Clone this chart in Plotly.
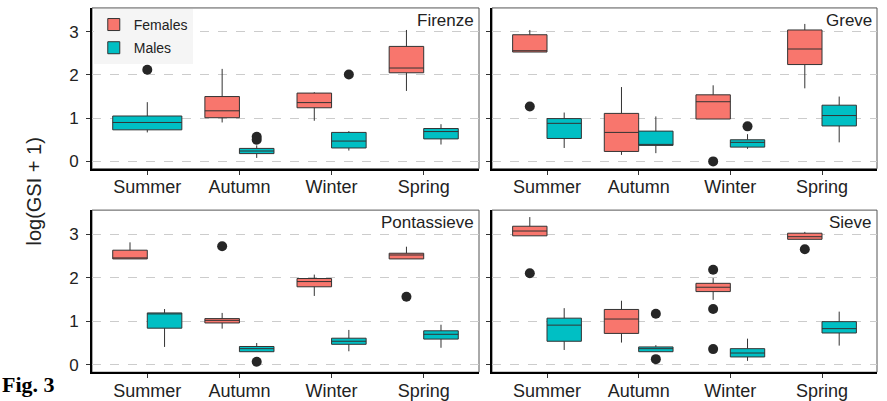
import plotly.graph_objects as go

SEASONS = ["Summer", "Autumn", "Winter", "Spring"]
SITES = ["Firenze", "Greve", "Pontassieve", "Sieve"]

# Box statistics per season: (lower whisker, Q1, median, Q3, upper whisker); None = no fish sampled
firenze_females = [None,
                   (0.90, 1.01, 1.17, 1.50, 2.14),
                   (0.94, 1.24, 1.36, 1.58, 1.60),
                   (1.63, 2.05, 2.16, 2.66, 3.04)]
firenze_males = [(0.67, 0.73, 0.90, 1.05, 1.37),
                 (0.08, 0.18, 0.24, 0.30, 0.37),
                 (0.25, 0.31, 0.47, 0.67, 0.70),
                 (0.39, 0.52, 0.69, 0.76, 0.86)]
greve_females = [(2.53, 2.53, 2.56, 2.93, 3.04),
                 (0.15, 0.23, 0.67, 1.11, 1.72),
                 (0.98, 0.98, 1.38, 1.54, 1.76),
                 (1.69, 2.24, 2.60, 3.04, 3.18)]
greve_males = [(0.31, 0.53, 0.88, 0.99, 1.13),
               (0.19, 0.37, 0.39, 0.70, 1.04),
               (0.29, 0.33, 0.44, 0.50, 0.63),
               (0.44, 0.82, 1.06, 1.30, 1.50)]
pontassieve_females = [(2.43, 2.43, 2.45, 2.63, 2.81),
                       (0.83, 0.96, 1.02, 1.06, 1.19),
                       (1.58, 1.79, 1.91, 1.98, 2.07),
                       (2.43, 2.43, 2.52, 2.56, 2.71)]
pontassieve_males = [(0.41, 0.84, 1.17, 1.19, 1.28),
                     (0.30, 0.30, 0.37, 0.42, 0.50),
                     (0.31, 0.47, 0.54, 0.61, 0.80),
                     (0.39, 0.59, 0.70, 0.78, 0.92)]
sieve_females = [(2.96, 2.96, 3.07, 3.18, 3.39),
                 (0.51, 0.72, 1.05, 1.27, 1.47),
                 (1.49, 1.68, 1.78, 1.87, 1.99),
                 (2.88, 2.88, 2.94, 3.02, 3.05)]
sieve_males = [(0.34, 0.54, 0.91, 1.07, 1.30),
               (0.30, 0.30, 0.37, 0.41, 0.45),
               (0.09, 0.18, 0.27, 0.37, 0.60),
               (0.44, 0.73, 0.83, 0.99, 1.22)]

# Outlying values per season
firenze_females_out = [[], [], [], []]
firenze_males_out = [[2.12], [0.57, 0.50], [2.01], []]
greve_females_out = [[1.27], [], [0.00], []]
greve_males_out = [[], [], [0.81], []]
pontassieve_females_out = [[], [2.72], [], [1.56]]
pontassieve_males_out = [[], [0.07], [], []]
sieve_females_out = [[2.10], [], [2.18, 1.28, 0.36], [2.65]]
sieve_males_out = [[], [1.17, 0.13], [], []]

STATS = {
    "Firenze": (firenze_females, firenze_males, firenze_females_out, firenze_males_out),
    "Greve": (greve_females, greve_males, greve_females_out, greve_males_out),
    "Pontassieve": (pontassieve_females, pontassieve_males, pontassieve_females_out, pontassieve_males_out),
    "Sieve": (sieve_females, sieve_males, sieve_females_out, sieve_males_out),
}

SEX_NAMES = ["Females", "Males"]
FILL = ["#F8766D", "#00BFC4"]
EDGE = "#333333"
DODGE = 0.75  # total width shared by the two boxes at one season

W, H = 887, 401
COL_PX = [(92, 479), (492, 877)]
ROW_PX = [(8, 170), (211.7, 375)]
YRANGE = [-0.17, 3.55]

fig = go.Figure()
font = "Liberation Sans, Arial, sans-serif"

for k, site in enumerate(SITES):
    r, c = divmod(k, 2)
    n = k + 1
    xa = "x" if n == 1 else f"x{n}"
    ya = "y" if n == 1 else f"y{n}"
    stats = STATS[site]
    for s in range(2):
        own, other = stats[s], stats[1 - s]
        outs = stats[2 + s]
        groups = {"dodged": ([], []), "solo": ([], [])}
        out_x, out_y = [], []
        for i, st in enumerate(own):
            if st is None:
                continue
            pos = i + 1
            if other[i] is None:
                groups["solo"][0].append(pos)
                groups["solo"][1].append(st)
                cx = pos
            else:
                cx = pos + (-1 if s == 0 else 1) * DODGE / 4
                groups["dodged"][0].append(cx)
                groups["dodged"][1].append(st)
            for v in outs[i]:
                out_x.append(cx)
                out_y.append(v)
        for gname, (xs, sts) in groups.items():
            if not xs:
                continue
            fig.add_trace(go.Box(
                x=xs,
                lowerfence=[t[0] for t in sts],
                q1=[t[1] for t in sts],
                median=[t[2] for t in sts],
                q3=[t[3] for t in sts],
                upperfence=[t[4] for t in sts],
                width=DODGE / 2 if gname == "dodged" else DODGE,
                whiskerwidth=0,
                fillcolor=FILL[s],
                line=dict(color=EDGE, width=1),
                name=SEX_NAMES[s],
                legendgroup=SEX_NAMES[s],
                showlegend=(k == 0 and gname == "dodged"),
                boxpoints=False,
                hoverinfo="skip",
                xaxis=xa, yaxis=ya,
            ))
        if out_x:
            fig.add_trace(go.Scatter(
                x=out_x, y=out_y, mode="markers",
                marker=dict(color="#262626", size=10),
                showlegend=False, hoverinfo="skip",
                xaxis=xa, yaxis=ya,
            ))

    x0, x1 = COL_PX[c]
    y0, y1 = ROW_PX[r]
    xdom = [x0 / W, x1 / W]
    ydom = [1 - y1 / H, 1 - y0 / H]
    xkey = "xaxis" if n == 1 else f"xaxis{n}"
    ykey = "yaxis" if n == 1 else f"yaxis{n}"
    fig.update_layout(**{
        xkey: dict(domain=xdom, anchor=ya, range=[0.4, 4.6],
                   tickvals=[1, 2, 3, 4], ticktext=SEASONS,
                   showgrid=False, zeroline=False,
                   showline=True, linecolor="black", linewidth=2,
                   ticks="outside", ticklen=4, tickcolor="#333333", tickwidth=1,
                   ticklabelstandoff=-3,
                   tickfont=dict(family=font, size=18, color="#222222")),
        ykey: dict(domain=ydom, anchor=xa, range=YRANGE,
                   tickvals=[0, 1, 2, 3],
                   showgrid=True, gridcolor="#cccccc", griddash="dash", gridwidth=1,
                   zeroline=False,
                   showline=True, linecolor="black", linewidth=2,
                   ticks="outside", ticklen=4, tickcolor="#333333", tickwidth=1,
                   ticklabelstandoff=4,
                   showticklabels=(c == 0),
                   tickfont=dict(family=font, size=17, color="#222222")),
    })
    # thin panel frame
    fig.add_shape(type="rect", xref=f"{xa} domain", yref=f"{ya} domain",
                  x0=0, x1=1, y0=0, y1=1, layer="below",
                  line=dict(color="#555555", width=1))
    # site label in the panel corner
    fig.add_annotation(text=site, xref=f"{xa} domain", yref=f"{ya} domain",
                       x=1, y=1, xanchor="right", yanchor="top",
                       xshift=-3, yshift=-1, showarrow=False,
                       font=dict(family=font, size=17, color="#222222"))

fig.add_annotation(text="log(GSI + 1)", xref="paper", yref="paper",
                   x=34 / W, y=1 - 193 / H, xanchor="center", yanchor="middle",
                   textangle=-90, showarrow=False,
                   font=dict(family=font, size=20, color="#222222"))
fig.add_annotation(text="<b>Fig. 3</b>", xref="paper", yref="paper",
                   x=1 / W, y=0, xanchor="left", yanchor="bottom",
                   showarrow=False, borderpad=0,
                   font=dict(family="Liberation Serif, Times New Roman, serif", size=22, color="black"))

fig.update_layout(
    width=W, height=H,
    margin=dict(l=0, r=0, t=0, b=0),
    paper_bgcolor="white", plot_bgcolor="white",
    boxmode="overlay",
    legend=dict(x=92 / W + 0.002, y=1 - 9 / H, xanchor="left", yanchor="top",
                bgcolor="#f5f5f5", borderwidth=0,
                font=dict(family=font, size=14, color="#222222"),
                tracegroupgap=2),
)

fig.write_html("out.html")
